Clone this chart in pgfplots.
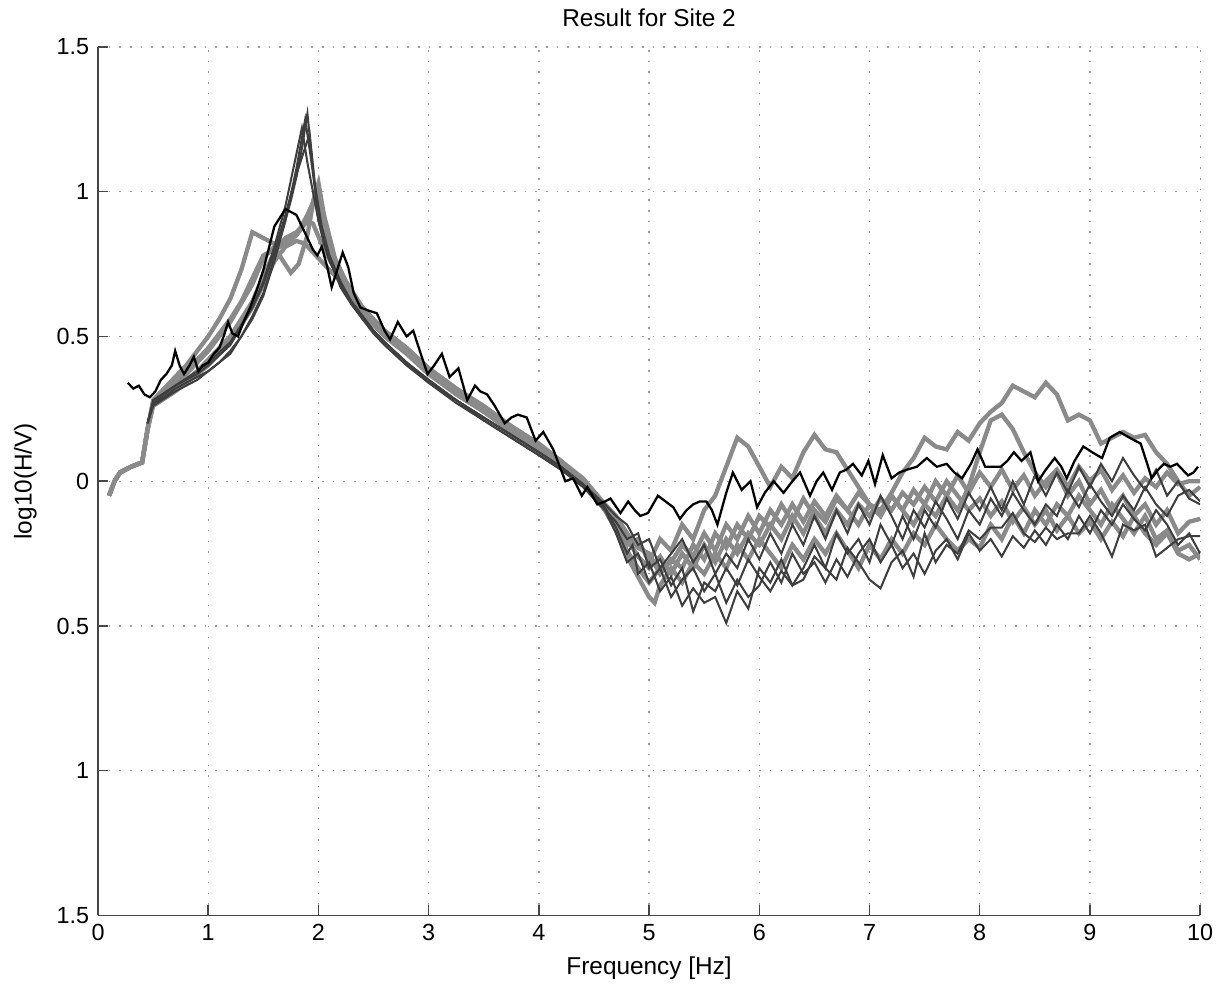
\documentclass[border=0pt]{standalone}
\usepackage{pgfplots}
\pgfplotsset{compat=1.18}
\usepackage{fontspec}
\setmainfont{Liberation Sans}
\definecolor{thickgray}{RGB}{138,138,138}
\definecolor{thindark}{RGB}{62,62,62}
\definecolor{axgray}{RGB}{70,70,70}
\begin{document}
\begin{tikzpicture}
\begin{axis}[
  scale only axis,
  width=434pt, height=342pt,
  xmin=0, xmax=10, ymin=-1.5, ymax=1.5,
  axis x line*=bottom, axis y line*=left,
  axis line style={-, axgray, line width=0.6pt},
  tick align=inside,
  major tick length=4pt,
  tick style={axgray, line width=0.6pt},
  xtick={0,1,...,10},
  ytick={-1.5,-1,-0.5,0,0.5,1,1.5},
  yticklabels={1.5,1,0.5,0,0.5,1,1.5},
  /pgf/number format/assume math mode=true,
  grid=major,
  major grid style={gray!75, line width=0.5pt, dash pattern=on 0.6pt off 3.6pt},
  font=\fontsize{9.6}{11.5}\selectfont,
  ticklabel style={font=\fontsize{9.2}{11}\selectfont},
  every axis title shift=0pt,
  title={Result for Site 2},
  title style={at={(axis description cs:0.5,1.034)}, anchor=center, font=\fontsize{9.6}{11.5}\selectfont},
  xlabel={Frequency [Hz]},
  xlabel style={at={(axis description cs:0.5,-0.061)}, anchor=center},
  ylabel={log10(H/V)},
  ylabel style={at={(axis description cs:-0.066,0.5)}, anchor=center},
  clip=true,
]
% ---- thick gray curves ----
\addplot[thickgray, line width=1.7pt] coordinates {
(0.1,-0.05)(0.15,0)(0.2,0.03)(0.3,0.05)(0.4,0.065)(0.45,0.18)(0.5,0.28)(0.6,0.32)(0.7,0.36)(0.8,0.4)(0.9,0.45)(1.0,0.5)(1.1,0.56)(1.2,0.63)(1.3,0.73)(1.4,0.86)(1.5,0.84)(1.6,0.82)(1.7,0.83)(1.8,0.85)(1.9,0.9)(1.98,1.0)(2.05,0.88)(2.15,0.75)(2.3,0.64)(2.4,0.59)(2.5,0.55)(2.6,0.51)(2.8,0.45)(3.0,0.38)(3.25,0.31)(3.5,0.25)(3.75,0.18)(4.0,0.12)(4.2,0.06)(4.4,0.0)
(4.6,-0.08)(4.7,-0.13)(4.8,-0.2)(4.9,-0.26)(5.0,-0.3)(5.1,-0.26)(5.2,-0.32)(5.3,-0.25)(5.4,-0.3)(5.5,-0.22)(5.6,-0.28)(5.7,-0.2)(5.8,-0.25)(5.9,-0.18)(6.0,-0.22)(6.1,-0.15)(6.2,-0.2)(6.3,-0.12)(6.4,-0.18)(6.5,-0.1)(6.6,-0.14)(6.7,-0.06)(6.8,-0.1)(6.9,-0.04)(7.0,-0.08)(7.1,-0.1)(7.2,-0.04)(7.3,0.03)(7.4,0.08)(7.5,0.15)(7.6,0.12)(7.7,0.11)(7.8,0.17)(7.9,0.14)(8.0,0.2)(8.1,0.24)(8.2,0.27)(8.3,0.33)(8.4,0.31)(8.5,0.29)(8.6,0.34)(8.7,0.3)(8.8,0.21)(8.9,0.23)(9.0,0.21)(9.1,0.13)(9.2,0.15)(9.3,0.17)(9.4,0.15)(9.5,0.16)(9.6,0.1)(9.7,0.06)(9.8,0.0)(9.9,-0.05)(10,-0.02)};
\addplot[thickgray, line width=1.7pt] coordinates {
(0.1,-0.05)(0.15,0)(0.2,0.03)(0.3,0.05)(0.4,0.065)(0.45,0.18)(0.5,0.27)(0.7,0.33)(0.9,0.41)(1.0,0.45)(1.2,0.55)(1.4,0.68)(1.5,0.77)(1.6,0.81)(1.68,0.76)(1.75,0.72)(1.82,0.75)(1.9,0.85)(1.96,0.98)(2.0,1.03)(2.05,0.92)(2.15,0.77)(2.3,0.65)(2.4,0.6)(2.5,0.55)(2.6,0.52)(2.8,0.46)(3.0,0.39)(3.25,0.32)(3.5,0.25)(3.75,0.19)(4.0,0.12)(4.2,0.07)(4.4,0.0)
(4.6,-0.09)(4.7,-0.15)(4.8,-0.22)(4.9,-0.2)(5.0,-0.28)(5.1,-0.2)(5.2,-0.24)(5.3,-0.15)(5.4,-0.2)(5.5,-0.1)(5.6,-0.05)(5.7,0.05)(5.8,0.15)(5.9,0.12)(6.0,0.05)(6.1,-0.02)(6.2,0.05)(6.3,0.01)(6.4,0.1)(6.5,0.16)(6.6,0.11)(6.7,0.1)(6.8,0.04)(6.9,-0.02)(7.0,-0.08)(7.1,-0.12)(7.2,-0.05)(7.3,-0.1)(7.4,-0.03)(7.5,-0.08)(7.6,0.0)(7.7,-0.05)(7.8,0.02)(7.9,-0.04)(8.0,0.03)(8.1,-0.02)(8.2,0.04)(8.3,-0.03)(8.4,0.02)(8.5,-0.05)(8.6,0.0)(8.7,0.04)(8.8,-0.02)(8.9,0.05)(9.0,0.0)(9.1,0.04)(9.2,-0.03)(9.3,0.02)(9.4,-0.04)(9.5,0.01)(9.6,-0.02)(9.7,0.03)(9.8,-0.01)(9.9,0.0)(10,0.0)};
\addplot[thickgray, line width=1.7pt] coordinates {
(0.1,-0.05)(0.15,0)(0.2,0.03)(0.3,0.05)(0.4,0.065)(0.45,0.18)(0.5,0.27)(0.7,0.32)(0.9,0.38)(1.0,0.42)(1.2,0.5)(1.4,0.62)(1.5,0.71)(1.6,0.79)(1.7,0.84)(1.8,0.86)(1.9,0.9)(1.95,0.89)(2.05,0.8)(2.2,0.7)(2.4,0.59)(2.5,0.55)(2.6,0.51)(2.8,0.45)(3.0,0.38)(3.25,0.31)(3.5,0.24)(3.75,0.18)(4.0,0.12)(4.2,0.06)(4.4,0.0)
(4.6,-0.1)(4.7,-0.16)(4.8,-0.24)(4.9,-0.3)(5.0,-0.35)(5.1,-0.3)(5.2,-0.28)(5.3,-0.22)(5.4,-0.26)(5.5,-0.18)(5.6,-0.24)(5.7,-0.15)(5.8,-0.2)(5.9,-0.12)(6.0,-0.18)(6.1,-0.1)(6.2,-0.15)(6.3,-0.08)(6.4,-0.14)(6.5,-0.07)(6.6,-0.12)(6.7,-0.05)(6.8,-0.1)(6.9,-0.15)(7.0,-0.08)(7.1,-0.12)(7.2,-0.05)(7.3,-0.1)(7.4,-0.15)(7.5,-0.08)(7.6,-0.12)(7.7,-0.05)(7.8,-0.1)(7.9,-0.02)(8.0,0.1)(8.1,0.21)(8.2,0.23)(8.3,0.18)(8.4,0.1)(8.5,0.03)(8.6,-0.02)(8.7,0.03)(8.8,-0.05)(8.9,0.0)(9.0,-0.08)(9.1,-0.03)(9.2,-0.1)(9.3,-0.05)(9.4,-0.12)(9.5,-0.08)(9.6,-0.15)(9.7,-0.1)(9.8,-0.18)(9.9,-0.14)(10,-0.13)};
\addplot[thickgray, line width=1.7pt] coordinates {
(0.1,-0.05)(0.15,0)(0.2,0.03)(0.3,0.05)(0.4,0.065)(0.45,0.18)(0.5,0.26)(0.7,0.31)(0.9,0.37)(1.0,0.4)(1.2,0.48)(1.4,0.6)(1.5,0.68)(1.6,0.76)(1.7,0.81)(1.8,0.83)(1.88,0.82)(2.0,0.77)(2.2,0.69)(2.4,0.58)(2.5,0.54)(2.6,0.5)(2.8,0.44)(3.0,0.37)(3.25,0.3)(3.5,0.24)(3.75,0.17)(4.0,0.11)(4.2,0.05)(4.4,-0.01)
(4.6,-0.1)(4.7,-0.17)(4.8,-0.26)(4.9,-0.33)(5.0,-0.4)(5.05,-0.42)(5.1,-0.36)(5.2,-0.3)(5.3,-0.35)(5.4,-0.28)(5.5,-0.32)(5.6,-0.25)(5.7,-0.3)(5.8,-0.22)(5.9,-0.27)(6.0,-0.2)(6.1,-0.25)(6.2,-0.3)(6.3,-0.22)(6.4,-0.27)(6.5,-0.2)(6.6,-0.25)(6.7,-0.18)(6.8,-0.24)(6.9,-0.3)(7.0,-0.22)(7.1,-0.27)(7.2,-0.2)(7.3,-0.25)(7.4,-0.18)(7.5,-0.22)(7.6,-0.15)(7.7,-0.2)(7.8,-0.24)(7.9,-0.2)(8.0,-0.23)(8.1,-0.15)(8.2,-0.2)(8.3,-0.12)(8.4,-0.18)(8.5,-0.1)(8.6,-0.15)(8.7,-0.08)(8.8,-0.12)(8.9,-0.05)(9.0,-0.1)(9.1,-0.15)(9.2,-0.08)(9.3,-0.13)(9.4,-0.18)(9.5,-0.12)(9.6,-0.2)(9.7,-0.17)(9.8,-0.24)(9.9,-0.22)(10,-0.27)};
\addplot[thickgray, line width=1.7pt] coordinates {
(0.1,-0.05)(0.15,0)(0.2,0.03)(0.3,0.05)(0.4,0.065)(0.45,0.18)(0.5,0.27)(0.7,0.34)(0.9,0.42)(1.0,0.46)(1.2,0.56)(1.3,0.62)(1.4,0.7)(1.5,0.78)(1.6,0.8)(1.7,0.82)(1.8,0.85)(1.9,0.92)(1.97,0.98)(2.05,0.86)(2.2,0.72)(2.4,0.6)(2.5,0.56)(2.6,0.52)(2.8,0.46)(3.0,0.39)(3.25,0.32)(3.5,0.26)(3.75,0.19)(4.0,0.13)(4.2,0.07)(4.4,0.01)
(4.6,-0.08)(4.7,-0.12)(4.8,-0.18)(4.9,-0.23)(5.0,-0.25)(5.1,-0.32)(5.2,-0.27)(5.3,-0.3)(5.4,-0.22)(5.5,-0.27)(5.6,-0.18)(5.7,-0.23)(5.8,-0.15)(5.9,-0.2)(6.0,-0.12)(6.1,-0.16)(6.2,-0.08)(6.3,-0.14)(6.4,-0.06)(6.5,-0.12)(6.6,-0.18)(6.7,-0.1)(6.8,-0.15)(6.9,-0.08)(7.0,-0.12)(7.1,-0.06)(7.2,-0.1)(7.3,-0.04)(7.4,-0.08)(7.5,-0.02)(7.6,-0.07)(7.7,0.0)(7.8,-0.05)(7.9,-0.1)(8.0,-0.06)(8.1,-0.12)(8.2,-0.07)(8.3,-0.14)(8.4,-0.09)(8.5,-0.15)(8.6,-0.1)(8.7,-0.17)(8.8,-0.12)(8.9,-0.18)(9.0,-0.14)(9.1,-0.2)(9.2,-0.14)(9.3,-0.19)(9.4,-0.12)(9.5,-0.18)(9.6,-0.22)(9.7,-0.18)(9.8,-0.25)(9.9,-0.27)(10,-0.25)};
% ---- thin dark curves ----
\addplot[thindark, line width=0.8pt] coordinates {
(0.45,0.2)(0.5,0.27)(0.6,0.29)(0.7,0.32)(0.8,0.34)(0.9,0.36)(1.0,0.38)(1.1,0.41)(1.2,0.45)(1.3,0.5)(1.4,0.57)(1.5,0.65)(1.6,0.77)(1.7,0.9)(1.75,0.97)(1.8,1.05)(1.85,1.15)(1.9,1.27)(1.95,1.08)(2.0,0.9)(2.05,0.82)(2.1,0.76)(2.2,0.68)(2.3,0.62)(2.4,0.57)(2.5,0.52)(2.6,0.48)(2.8,0.41)(3.0,0.35)(3.25,0.28)(3.5,0.22)(3.75,0.16)(4.0,0.1)(4.2,0.05)(4.4,-0.01)
(4.6,-0.09)(4.7,-0.16)(4.8,-0.25)(4.85,-0.22)(4.9,-0.32)(5.0,-0.28)(5.1,-0.38)(5.2,-0.33)(5.3,-0.43)(5.4,-0.37)(5.5,-0.42)(5.6,-0.4)(5.7,-0.49)(5.8,-0.38)(5.9,-0.44)(6.0,-0.3)(6.1,-0.35)(6.2,-0.27)(6.3,-0.36)(6.4,-0.3)(6.5,-0.22)(6.6,-0.3)(6.7,-0.18)(6.8,-0.25)(6.9,-0.2)(7.0,-0.28)(7.1,-0.15)(7.2,-0.22)(7.3,-0.12)(7.4,-0.2)(7.5,-0.1)(7.6,-0.16)(7.7,-0.06)(7.8,-0.13)(7.9,-0.04)(8.0,-0.1)(8.1,-0.02)(8.2,-0.1)(8.3,0.0)(8.4,-0.08)(8.5,0.02)(8.6,-0.05)(8.7,0.03)(8.8,-0.04)(8.9,0.05)(9.0,-0.02)(9.1,0.06)(9.2,0.0)(9.3,0.08)(9.4,0.02)(9.5,-0.03)(9.6,0.04)(9.7,-0.05)(9.8,0.0)(9.9,-0.06)(10,-0.08)};
\addplot[thindark, line width=0.8pt] coordinates {
(0.45,0.2)(0.5,0.27)(0.7,0.33)(0.9,0.37)(1.0,0.4)(1.2,0.47)(1.4,0.6)(1.5,0.69)(1.6,0.81)(1.7,0.95)(1.8,1.13)(1.85,1.22)(1.9,1.1)(1.95,1.0)(2.0,0.9)(2.1,0.77)(2.2,0.68)(2.3,0.62)(2.4,0.56)(2.5,0.52)(2.6,0.48)(2.8,0.41)(3.0,0.34)(3.25,0.28)(3.5,0.21)(3.75,0.15)(4.0,0.09)(4.2,0.04)(4.4,-0.02)
(4.6,-0.1)(4.7,-0.14)(4.8,-0.2)(4.9,-0.18)(5.0,-0.3)(5.1,-0.27)(5.2,-0.36)(5.3,-0.3)(5.4,-0.45)(5.5,-0.35)(5.6,-0.38)(5.7,-0.3)(5.8,-0.36)(5.9,-0.27)(6.0,-0.33)(6.1,-0.38)(6.2,-0.31)(6.3,-0.36)(6.4,-0.34)(6.5,-0.26)(6.6,-0.3)(6.7,-0.34)(6.8,-0.23)(6.9,-0.28)(7.0,-0.34)(7.1,-0.37)(7.2,-0.28)(7.3,-0.24)(7.4,-0.33)(7.5,-0.18)(7.6,-0.28)(7.7,-0.22)(7.8,-0.25)(7.9,-0.17)(8.0,-0.2)(8.1,-0.16)(8.2,-0.16)(8.3,-0.11)(8.4,-0.18)(8.5,-0.21)(8.6,-0.16)(8.7,-0.2)(8.8,-0.18)(8.9,-0.18)(9.0,-0.12)(9.1,-0.18)(9.2,-0.26)(9.3,-0.15)(9.4,-0.17)(9.5,-0.15)(9.6,-0.26)(9.7,-0.23)(9.8,-0.2)(9.9,-0.19)(10,-0.19)};
\addplot[thindark, line width=0.8pt] coordinates {
(0.45,0.2)(0.5,0.26)(0.7,0.31)(0.9,0.35)(1.0,0.38)(1.2,0.44)(1.4,0.56)(1.5,0.64)(1.6,0.76)(1.7,0.9)(1.8,1.08)(1.88,1.25)(1.93,1.12)(2.0,0.92)(2.1,0.77)(2.2,0.67)(2.3,0.61)(2.4,0.56)(2.5,0.51)(2.6,0.47)(2.8,0.4)(3.0,0.34)(3.25,0.27)(3.5,0.21)(3.75,0.15)(4.0,0.09)(4.2,0.04)(4.4,-0.01)
(4.6,-0.08)(4.7,-0.12)(4.8,-0.15)(4.9,-0.22)(5.0,-0.2)(5.1,-0.3)(5.2,-0.25)(5.3,-0.2)(5.4,-0.28)(5.5,-0.22)(5.6,-0.32)(5.7,-0.25)(5.8,-0.3)(5.9,-0.2)(6.0,-0.27)(6.1,-0.18)(6.2,-0.25)(6.3,-0.15)(6.4,-0.22)(6.5,-0.12)(6.6,-0.2)(6.7,-0.1)(6.8,-0.18)(6.9,-0.08)(7.0,-0.15)(7.1,-0.05)(7.2,-0.12)(7.3,-0.2)(7.4,-0.1)(7.5,-0.16)(7.6,-0.07)(7.7,-0.13)(7.8,-0.2)(7.9,-0.1)(8.0,-0.15)(8.1,-0.06)(8.2,-0.12)(8.3,-0.04)(8.4,-0.1)(8.5,-0.15)(8.6,-0.08)(8.7,-0.12)(8.8,-0.03)(8.9,-0.09)(9.0,-0.01)(9.1,-0.07)(9.2,-0.12)(9.3,-0.05)(9.4,-0.1)(9.5,-0.02)(9.6,-0.08)(9.7,-0.12)(9.8,-0.05)(9.9,-0.03)(10,-0.07)};
\addplot[thindark, line width=0.8pt] coordinates {
(0.45,0.2)(0.5,0.28)(0.7,0.33)(0.9,0.38)(1.0,0.41)(1.2,0.48)(1.4,0.6)(1.5,0.68)(1.6,0.79)(1.7,0.92)(1.8,1.06)(1.92,1.2)(1.97,1.02)(2.03,0.88)(2.1,0.78)(2.2,0.69)(2.3,0.62)(2.4,0.57)(2.5,0.52)(2.6,0.48)(2.8,0.41)(3.0,0.35)(3.25,0.28)(3.5,0.22)(3.75,0.16)(4.0,0.1)(4.2,0.05)(4.4,-0.01)
(4.6,-0.1)(4.7,-0.18)(4.8,-0.28)(4.9,-0.25)(5.0,-0.35)(5.1,-0.3)(5.2,-0.4)(5.3,-0.34)(5.4,-0.3)(5.5,-0.38)(5.6,-0.32)(5.7,-0.42)(5.8,-0.34)(5.9,-0.4)(6.0,-0.36)(6.1,-0.28)(6.2,-0.35)(6.3,-0.25)(6.4,-0.32)(6.5,-0.28)(6.6,-0.35)(6.7,-0.27)(6.8,-0.33)(6.9,-0.25)(7.0,-0.2)(7.1,-0.28)(7.2,-0.22)(7.3,-0.3)(7.4,-0.25)(7.5,-0.32)(7.6,-0.24)(7.7,-0.2)(7.8,-0.27)(7.9,-0.18)(8.0,-0.24)(8.1,-0.2)(8.2,-0.26)(8.3,-0.19)(8.4,-0.23)(8.5,-0.17)(8.6,-0.22)(8.7,-0.15)(8.8,-0.2)(8.9,-0.12)(9.0,-0.18)(9.1,-0.1)(9.2,-0.15)(9.3,-0.08)(9.4,-0.13)(9.5,-0.17)(9.6,-0.1)(9.7,-0.15)(9.8,-0.22)(9.9,-0.18)(10,-0.25)};
% ---- black curve ----
\addplot[black, line width=0.9pt] coordinates {
(0.27,0.34)(0.32,0.32)(0.37,0.33)(0.42,0.30)(0.47,0.29)(0.52,0.31)(0.57,0.35)(0.62,0.37)(0.67,0.40)(0.70,0.45)(0.74,0.40)(0.78,0.37)(0.83,0.40)(0.87,0.43)(0.91,0.38)(0.95,0.40)(1.0,0.41)(1.05,0.44)(1.1,0.46)(1.14,0.50)(1.18,0.55)(1.22,0.51)(1.27,0.50)(1.32,0.55)(1.38,0.60)(1.44,0.66)(1.5,0.73)(1.56,0.82)(1.6,0.88)(1.65,0.91)(1.7,0.94)(1.75,0.93)(1.8,0.92)(1.85,0.88)(1.9,0.84)(1.95,0.80)(1.99,0.78)(2.03,0.81)(2.08,0.74)(2.12,0.67)(2.17,0.73)(2.22,0.79)(2.27,0.74)(2.32,0.65)(2.38,0.60)(2.45,0.59)(2.53,0.58)(2.6,0.52)(2.65,0.49)(2.72,0.55)(2.8,0.50)(2.86,0.52)(2.92,0.45)(2.99,0.37)(3.05,0.40)(3.12,0.44)(3.19,0.36)(3.27,0.39)(3.35,0.28)(3.42,0.33)(3.47,0.31)(3.53,0.30)(3.6,0.26)(3.69,0.20)(3.75,0.22)(3.81,0.23)(3.89,0.22)(3.97,0.14)(4.04,0.17)(4.13,0.11)(4.2,0.04)(4.24,0.0)(4.31,0.01)(4.39,-0.05)(4.44,-0.02)(4.53,-0.08)(4.6,-0.07)(4.65,-0.06)(4.74,-0.11)(4.81,-0.07)(4.87,-0.10)(4.92,-0.12)(4.99,-0.11)(5.08,-0.05)(5.15,-0.07)(5.22,-0.09)(5.28,-0.13)(5.34,-0.10)(5.4,-0.08)(5.46,-0.07)(5.52,-0.07)(5.57,-0.10)(5.62,-0.15)(5.7,-0.04)(5.76,0.03)(5.84,-0.03)(5.92,0.0)(5.98,-0.09)(6.05,-0.04)(6.13,0.0)(6.22,-0.04)(6.3,0.0)(6.37,0.03)(6.46,-0.05)(6.52,0.0)(6.58,0.03)(6.66,-0.03)(6.73,0.03)(6.79,0.04)(6.85,0.06)(6.93,0.02)(6.99,0.07)(7.05,-0.01)(7.12,0.09)(7.2,0.01)(7.27,0.03)(7.34,0.04)(7.43,0.05)(7.52,0.08)(7.61,0.05)(7.7,0.06)(7.77,0.03)(7.84,0.01)(7.92,0.06)(7.98,0.11)(8.05,0.05)(8.12,0.05)(8.19,0.05)(8.25,0.07)(8.31,0.10)(8.38,0.07)(8.46,0.10)(8.53,0.0)(8.6,0.04)(8.68,0.08)(8.74,0.05)(8.79,0.01)(8.86,0.07)(8.94,0.12)(9.02,0.10)(9.11,0.08)(9.18,0.15)(9.27,0.17)(9.36,0.15)(9.46,0.13)(9.52,0.06)(9.56,0.01)(9.62,0.04)(9.67,0.06)(9.73,0.05)(9.79,0.06)(9.84,0.04)(9.89,0.02)(9.94,0.03)(9.98,0.05)};
\end{axis}
\pgfresetboundingbox
\path ([shift={(-38.6pt,-26.8pt)}]current axis.south west) rectangle ([shift={(9pt,18.5pt)}]current axis.north east);
\end{tikzpicture}
\end{document}
